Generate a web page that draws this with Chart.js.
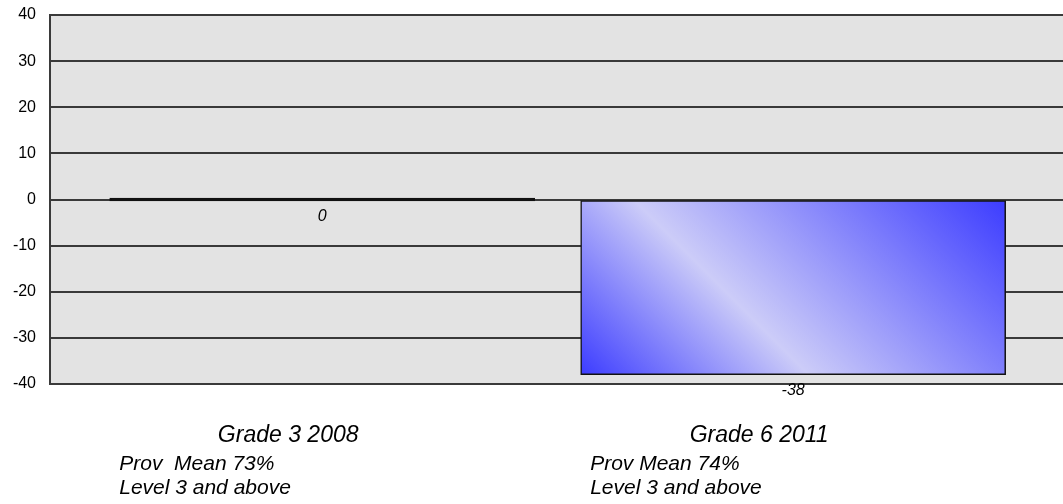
<!DOCTYPE html>
<html>
<head>
<meta charset="utf-8">
<script src="https://cdn.jsdelivr.net/npm/chart.js@4/dist/chart.umd.min.js"></script>
<style>
  body { margin: 0; background: #fff; }
  #wrap { width: 1063px; height: 504px; position: relative; }
</style>
</head>
<body>
<div id="wrap"><canvas id="wykres"></canvas></div>
<script>
const kategorie = ['Grade 3 2008', 'Grade 6 2011'];
const opisy = [
  ['Prov  Mean 73%', 'Level 3 and above'],
  ['Prov Mean 74%', 'Level 3 and above']
];
const wartosci = [0, -38];
const yTicks = [40, 30, 20, 10, 0, -10, -20, -30, -40];

const FONT = '"Liberation Sans", Arial, sans-serif';
const GRUBOSC = 425;

// szare tlo pola wykresu
const tloPlugin = {
  id: 'tlo',
  beforeDraw(chart) {
    const { ctx, chartArea: a } = chart;
    ctx.save();
    ctx.fillStyle = '#e3e3e3';
    ctx.fillRect(a.left, a.top, a.right - a.left, a.bottom - a.top);
    ctx.restore();
  }
};

// etykiety wartosci i podpisy kategorii
const podpisyPlugin = {
  id: 'podpisy',
  afterDatasetsDraw(chart) {
    const ctx = chart.ctx;
    const meta = chart.getDatasetMeta(0);
    const xs = chart.scales.x;
    ctx.save();
    ctx.fillStyle = '#000';
    ctx.textAlign = 'center';
    ctx.textBaseline = 'middle';
    ctx.font = 'italic 16px ' + FONT;
    meta.data.forEach((el, i) => {
      const dol = Math.max(el.y, el.base);
      ctx.fillText(String(wartosci[i]), el.x, dol + 16);
    });

    kategorie.forEach((k, i) => {
      const cx = xs.getPixelForValue(i);
      ctx.textBaseline = 'alphabetic';
      ctx.textAlign = 'center';
      ctx.font = 'italic 23px ' + FONT;
      ctx.fillText(k, cx - 34, 442);
      ctx.textAlign = 'left';
      ctx.font = 'italic 21px ' + FONT;
      ctx.fillText(opisy[i][0], cx - 203, 470);
      ctx.fillText(opisy[i][1], cx - 203, 494);
    });
    ctx.restore();
  }
};

function gradientSlupka(context) {
  const chart = context.chart;
  if (context.dataIndex === 0) return '#000';
  const xs = chart.scales.x, ys = chart.scales.y;
  if (!xs || !ys || !chart.chartArea) return '#5050ff';
  const cx = xs.getPixelForValue(context.dataIndex);
  const y0 = ys.getPixelForValue(0);
  const y1 = ys.getPixelForValue(wartosci[context.dataIndex]);
  if (![cx, y0, y1].every(Number.isFinite)) return '#5050ff';
  const top = Math.min(y0, y1), bottom = Math.max(y0, y1);
  const h = bottom - top;
  const left = cx - GRUBOSC / 2;
  const s = (GRUBOSC + h) / 2;
  const g = chart.ctx.createLinearGradient(left, bottom, left + s, bottom - s);
  g.addColorStop(0, '#3c3cff');
  g.addColorStop(0.38, '#ccccf8');
  g.addColorStop(1, '#3c3cff');
  return g;
}

window.onload = () => {
  const ctx = document.getElementById('wykres').getContext('2d');
  new Chart(ctx, {
    type: 'bar',
    data: {
      datasets: [{
        data: wartosci.map((v, i) => ({ x: i, y: v })),
        backgroundColor: gradientSlupka,
        borderColor: '#111',
        borderWidth: 1.5,
        borderSkipped: false,
        barThickness: GRUBOSC,
        minBarLength: 3
      }]
    },
    options: {
      responsive: true,
      maintainAspectRatio: false,
      animation: false,
      layout: { padding: { left: 0, right: 0, top: 15, bottom: 120 } },
      plugins: {
        legend: { display: false },
        tooltip: { enabled: false },
        title: { display: false }
      },
      scales: {
        x: {
          type: 'linear',
          display: false,
          offset: false,
          min: -0.578,
          max: 1.573
        },
        y: {
          min: -40,
          max: 40,
          afterFit: scale => {
            scale.width = 50;
            scale.paddingTop = 0;
            scale.paddingBottom = 0;
          },
          afterBuildTicks: scale => { scale.ticks = yTicks.map(v => ({ value: v })); },
          ticks: {
            color: '#000',
            padding: 14,
            font: { size: 16, family: FONT }
          },
          grid: {
            color: '#3a3a3a',
            lineWidth: 2,
            drawTicks: false
          },
          border: { display: true, color: '#3a3a3a', width: 2 }
        }
      }
    },
    plugins: [tloPlugin, podpisyPlugin]
  });
};
</script>
</body>
</html>
